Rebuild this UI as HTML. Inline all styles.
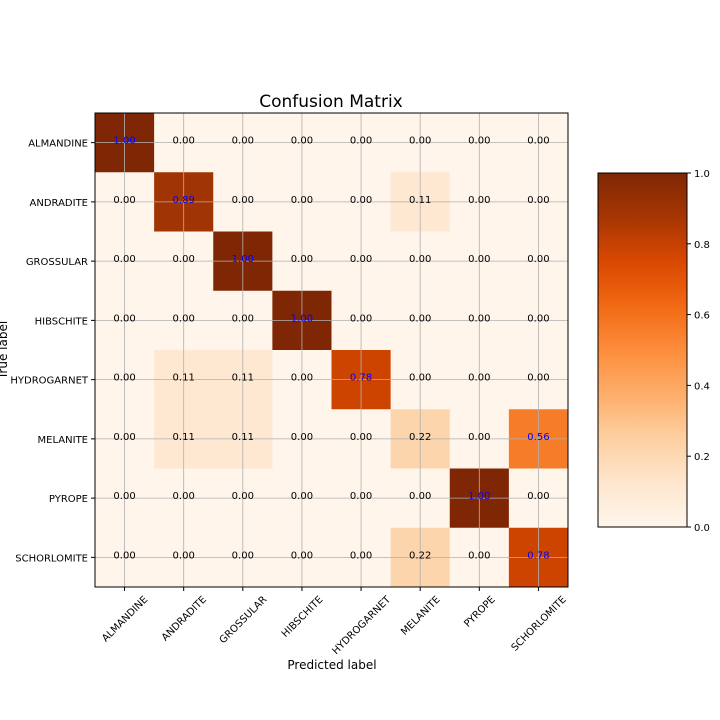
<!DOCTYPE html>
<html><head><meta charset="utf-8"><style>body{margin:0;background:#fff}svg{display:block;font-family:"DejaVu Sans","Liberation Sans",sans-serif}</style></head>
<body>
<svg id="c" width="720" height="720" viewBox="0 0 720 720"></svg>
<script>
const labels=["ALMANDINE","ANDRADITE","GROSSULAR","HIBSCHITE","HYDROGARNET","MELANITE","PYROPE","SCHORLOMITE"];
const row0=[1,0,0,0,0,0,0,0];
const row1=[0,0.89,0,0,0,0.11,0,0];
const row2=[0,0,1,0,0,0,0,0];
const row3=[0,0,0,1,0,0,0,0];
const row4=[0,0.11,0.11,0,0.78,0,0,0];
const row5=[0,0.11,0.11,0,0,0.22,0,0.56];
const row6=[0,0,0,0,0,0,1,0];
const row7=[0,0,0,0,0,0.22,0,0.78];
const matrix=[row0,row1,row2,row3,row4,row5,row6,row7];
const cbTicks=[0,0.2,0.4,0.6,0.8,1.0];
const stops=["#fff5eb","#fee6ce","#fdd0a2","#fdae6b","#fd8d3c","#f16913","#d94801","#a63603","#7f2704"];
function hex(h){return[1,3,5].map(i=>parseInt(h.substr(i,2),16));}
function cmap(v){v=Math.max(0,Math.min(1,v));const p=v*8,i=Math.min(7,Math.floor(p)),t=p-i;const a=hex(stops[i]),b=hex(stops[i+1]);return`rgb(${a.map((x,k)=>Math.round(x+(b[k]-x)*t)).join(",")})`;}
const L=95,T=113,W=473,H=474,n=labels.length,cw=W/n,ch=H/n;
const sx=j=>L+cw*(j+0.5),sy=i=>T+ch*(i+0.5);
const svg=document.getElementById('c');const NS="http://www.w3.org/2000/svg";
function el(t,a,txt){const e=document.createElementNS(NS,t);for(const k in a)e.setAttribute(k,a[k]);if(txt!==undefined)e.textContent=txt;svg.appendChild(e);return e;}
let e=el('text',{x:331,y:107,'text-anchor':'middle','font-size':17},'Confusion Matrix');


matrix.forEach((r,i)=>r.forEach((v,j)=>{
 const c=el('rect',{x:L+cw*j,y:T+ch*i,width:cw+0.5,height:ch+0.5,fill:cmap(v)});
 
 
}));
for(let k=0;k<n;k++){
 el('line',{x1:sx(k),x2:sx(k),y1:T,y2:T+H,stroke:'#b0b0b0','stroke-width':0.8});
 el('line',{x1:L,x2:L+W,y1:sy(k),y2:sy(k),stroke:'#b0b0b0','stroke-width':0.8});
}
matrix.forEach((r,i)=>r.forEach((v,j)=>{
 const t=el('text',{x:sx(j),y:sy(i)+1,'text-anchor':'middle','font-size':10,fill:v>0.5?'#0000ff':'#000'},v.toFixed(2));
 
 
}));
el('rect',{x:L,y:T,width:W,height:H,fill:'none',stroke:'#000','stroke-width':1});
labels.forEach((lb,k)=>{
 el('line',{x1:L-4,x2:L,y1:sy(k),y2:sy(k),stroke:'#000'});
 const yl=el('text',{x:L-7,y:sy(k)+4,'text-anchor':'end','font-size':10},lb);
 
 
 el('line',{x1:sx(k),x2:sx(k),y1:T+H,y2:T+H+4,stroke:'#000'});
 const xl=el('text',{x:0,y:0,'text-anchor':'middle','font-size':10},lb);
 const w=xl.getComputedTextLength();
 const cy=T+H+7+(w*0.707+10*0.707)/2;
 xl.setAttribute('transform',`translate(${sx(k)} ${cy}) rotate(-45) translate(0 3.5)`);
 
 
});
e=el('text',{x:332,y:669,'text-anchor':'middle','font-size':12},'Predicted label');


e=el('text',{x:7,y:350,'text-anchor':'middle','font-size':12,transform:'rotate(-90 7 350)'},'True label');


const CX=598,CY=173,CW=89,CH=354;
const defs=el('defs',{});const g=document.createElementNS(NS,'linearGradient');g.setAttribute('id','gr');g.setAttribute('x1','0');g.setAttribute('y1','1');g.setAttribute('x2','0');g.setAttribute('y2','0');
stops.forEach((s,i)=>{const st=document.createElementNS(NS,'stop');st.setAttribute('offset',i/8);st.setAttribute('stop-color',s);g.appendChild(st);});defs.appendChild(g);
e=el('rect',{x:CX,y:CY,width:CW,height:CH,fill:'url(#gr)',stroke:'#000','stroke-width':1});


cbTicks.forEach(v=>{const y=CY+CH*(1-v);el('line',{x1:CX+CW,x2:CX+CW+4,y1:y,y2:y,stroke:'#000'});
 const t=el('text',{x:CX+CW+7,y:y+4,'font-size':10},v.toFixed(1));
 
 });
</script>
</body></html>
